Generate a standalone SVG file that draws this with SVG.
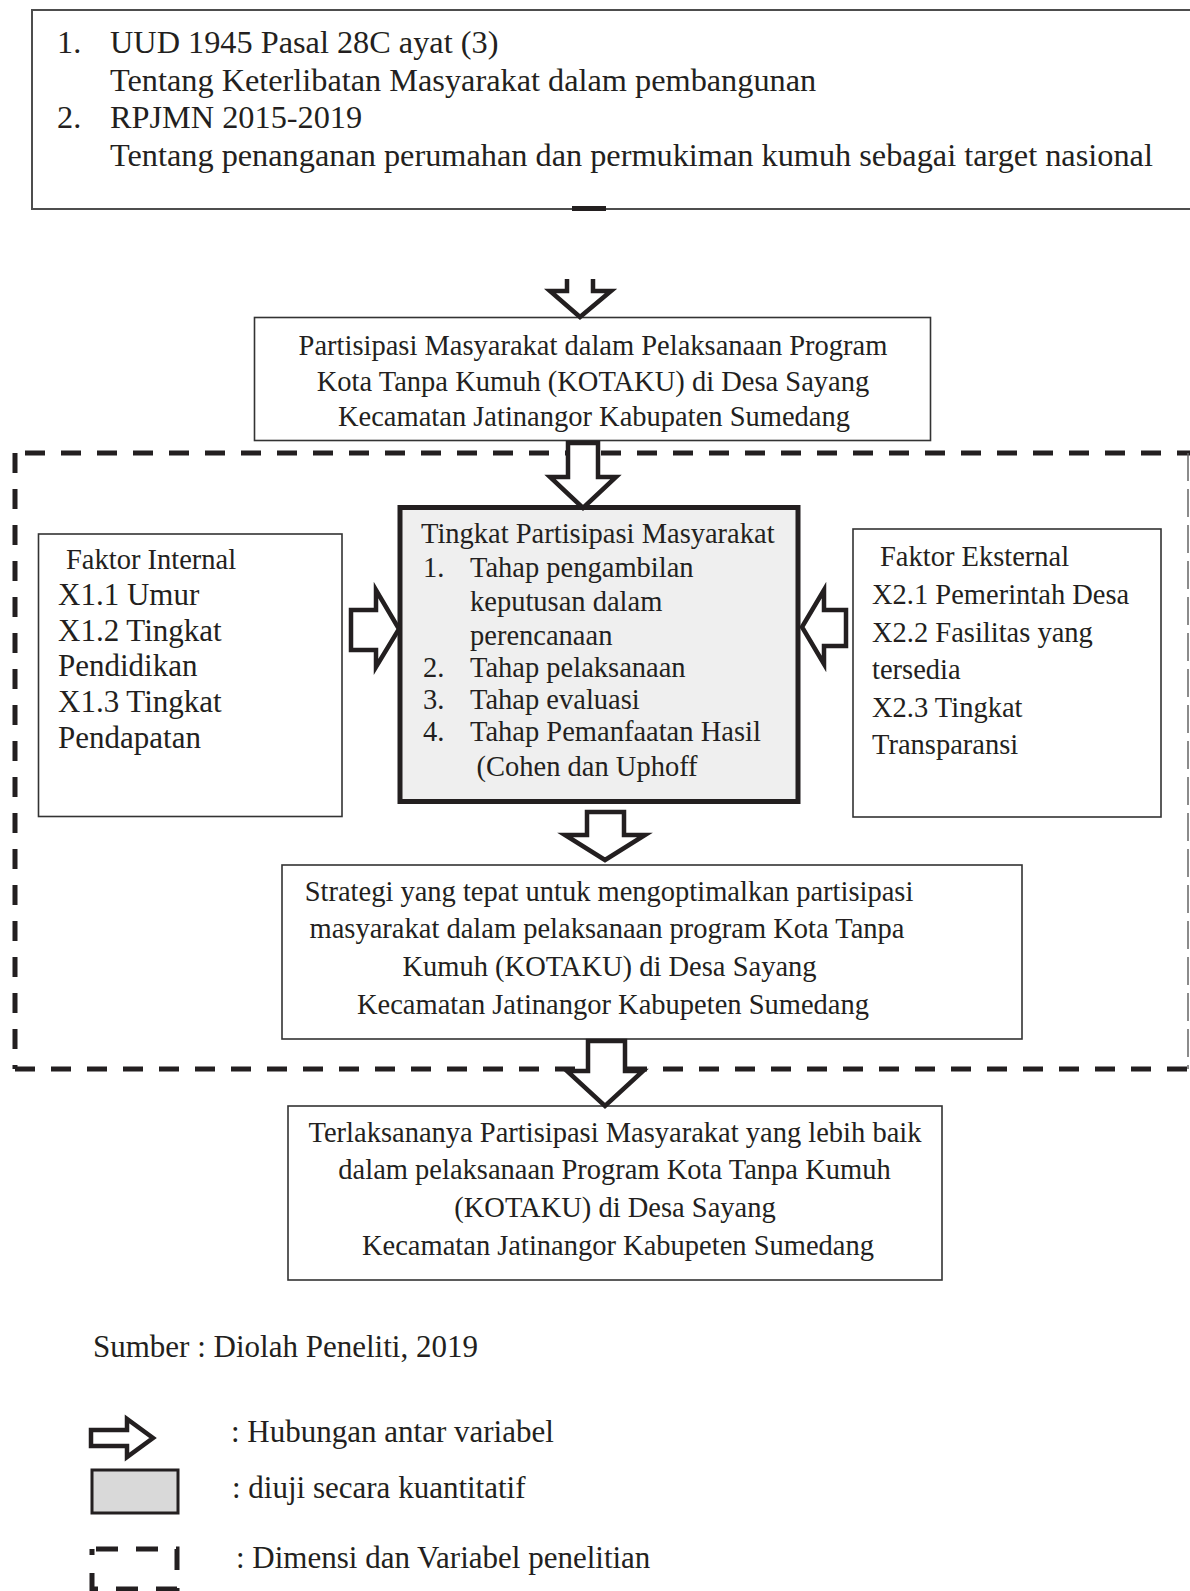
<svg xmlns="http://www.w3.org/2000/svg" width="1190" height="1591" viewBox="0 0 1190 1591">
<style>
text{font-family:"Liberation Serif","Times New Roman",serif;fill:#231f20;}
.t32{font-size:32.3px;}
.t28{font-size:28.5px;}
.t31{font-size:31px;}
.mid{text-anchor:middle;}
.box{fill:#fff;stroke:#333;stroke-width:1.6;}
.arrow{fill:#fff;stroke:#231f20;stroke-width:4.5;stroke-linejoin:miter;}
.dash{fill:none;stroke:#231f20;stroke-width:5;stroke-dasharray:20 16;}
</style>
<rect width="1190" height="1591" fill="#fff"/>

<g id="frame-dimensi">
<line class="dash" x1="15" y1="453" x2="1190" y2="453" stroke-dashoffset="-10"/>
<line class="dash" x1="15" y1="453" x2="15" y2="1069"/>
<line class="dash" x1="15" y1="1069" x2="1190" y2="1069"/>
<line x1="1188" y1="453" x2="1188" y2="1069" stroke="#666" stroke-width="1.5" stroke-dasharray="28 8"/>
</g>

<g id="node-dasar-hukum">
<rect x="32" y="10" width="1180" height="199" fill="#fff" stroke="#4d4d4d" stroke-width="2"/>
<text class="t32" x="57" y="53">1.</text>
<text class="t32" x="110" y="53">UUD 1945 Pasal 28C ayat (3)</text>
<text class="t32" x="110" y="91">Tentang Keterlibatan Masyarakat dalam pembangunan</text>
<text class="t32" x="57" y="128">2.</text>
<text class="t32" x="110" y="128">RPJMN 2015-2019</text>
<text class="t32" x="110" y="166">Tentang penanganan perumahan dan permukiman kumuh sebagai target nasional</text>
</g>

<g id="node-partisipasi">
<rect class="box" x="254.5" y="317.5" width="676" height="123"/>
<text class="t28 mid" x="593" y="355">Partisipasi Masyarakat dalam Pelaksanaan Program</text>
<text class="t28 mid" x="593" y="391">Kota Tanpa Kumuh (KOTAKU) di Desa Sayang</text>
<text class="t28 mid" x="594" y="426">Kecamatan Jatinangor Kabupaten Sumedang</text>
</g>

<g id="node-faktor-internal">
<rect class="box" x="38.5" y="534" width="303.5" height="282.5"/>
<text class="t28" x="66" y="569">Faktor Internal</text>
<text class="t31" x="58" y="605">X1.1 Umur</text>
<text class="t31" x="58" y="641">X1.2 Tingkat</text>
<text class="t31" x="58" y="676">Pendidikan</text>
<text class="t31" x="58" y="712">X1.3 Tingkat</text>
<text class="t31" x="58" y="748">Pendapatan</text>
</g>

<g id="node-tingkat-partisipasi">
<rect x="400" y="507.5" width="398" height="294" fill="#efefef" stroke="#231f20" stroke-width="5"/>
<text class="t28" x="421" y="543">Tingkat Partisipasi Masyarakat</text>
<text class="t28" x="423" y="577">1.</text>
<text class="t28" x="470" y="577">Tahap pengambilan</text>
<text class="t28" x="470" y="611">keputusan dalam</text>
<text class="t28" x="470" y="645">perencanaan</text>
<text class="t28" x="423" y="677">2.</text>
<text class="t28" x="470" y="677">Tahap pelaksanaan</text>
<text class="t28" x="423" y="709">3.</text>
<text class="t28" x="470" y="709">Tahap evaluasi</text>
<text class="t28" x="423" y="741">4.</text>
<text class="t28" x="470" y="741">Tahap Pemanfaatan Hasil</text>
<text class="t28" x="476.5" y="776">(Cohen dan Uphoff</text>
</g>

<g id="node-faktor-eksternal">
<rect class="box" x="853" y="529" width="308" height="288"/>
<text class="t28" x="880" y="566">Faktor Eksternal</text>
<text class="t28" x="872" y="603.5">X2.1 Pemerintah Desa</text>
<text class="t28" x="872" y="641.5">X2.2 Fasilitas yang</text>
<text class="t28" x="872" y="678.5">tersedia</text>
<text class="t28" x="872" y="716.5">X2.3 Tingkat</text>
<text class="t28" x="872" y="754">Transparansi</text>
</g>

<g id="node-strategi">
<rect class="box" x="282" y="865" width="740" height="174"/>
<text class="t28 mid" x="609" y="901">Strategi yang tepat untuk mengoptimalkan partisipasi</text>
<text class="t28 mid" x="607" y="937.5">masyarakat dalam pelaksanaan program Kota Tanpa</text>
<text class="t28 mid" x="609.5" y="975.5">Kumuh (KOTAKU) di Desa Sayang</text>
<text class="t28 mid" x="613" y="1013.5">Kecamatan Jatinangor Kabupeten Sumedang</text>
</g>

<g id="node-hasil">
<rect class="box" x="288" y="1106" width="654" height="174"/>
<text class="t28 mid" x="615" y="1141.5">Terlaksananya Partisipasi Masyarakat yang lebih baik</text>
<text class="t28 mid" x="614.5" y="1178.5">dalam pelaksanaan Program Kota Tanpa Kumuh</text>
<text class="t28 mid" x="615" y="1216.5">(KOTAKU) di Desa Sayang</text>
<text class="t28 mid" x="618" y="1254.5">Kecamatan Jatinangor Kabupeten Sumedang</text>
</g>

<g id="connectors">
<rect x="572" y="206" width="34" height="5" fill="#231f20"/>
<path class="arrow" d="M567,279 V291 H550 L580,317 L611,291 H593 V279"/>
<path class="arrow" d="M568,443 H598 V477 H616 L583,508 L550,477 H568 Z"/>
<path class="arrow" d="M351,610 H376 V590 L399,629 L376,667 V650 H351 Z"/>
<path class="arrow" d="M846,610 H824 V590 L802,627 L824,664 V646 H846 Z"/>
<path class="arrow" d="M587,812 H624 V835 H645 L605,860 L565,835 H587 Z"/>
<path class="arrow" d="M588,1041 H625 V1071 H643 L605,1106 L567,1071 H588 Z"/>
</g>

<g id="sumber">
<text class="t31" x="93" y="1357">Sumber : Diolah Peneliti, 2019</text>
</g>

<g id="legend-hubungan">
<path class="arrow" d="M91,1430 H127 V1419 L153,1438 L127,1457 V1446 H91 Z"/>
<text class="t31" x="231" y="1442">: Hubungan antar variabel</text>
</g>
<g id="legend-kuantitatif">
<rect x="92" y="1470" width="86" height="43" fill="#d9d9d9" stroke="#231f20" stroke-width="3"/>
<text class="t31" x="232" y="1498">: diuji secara kuantitatif</text>
</g>
<g id="legend-dimensi">
<rect x="92" y="1549" width="85" height="40" fill="none" stroke="#231f20" stroke-width="5" stroke-dasharray="22 18" stroke-dashoffset="-4"/>
<text class="t31" x="236" y="1568">: Dimensi dan Variabel penelitian</text>
</g>
</svg>
